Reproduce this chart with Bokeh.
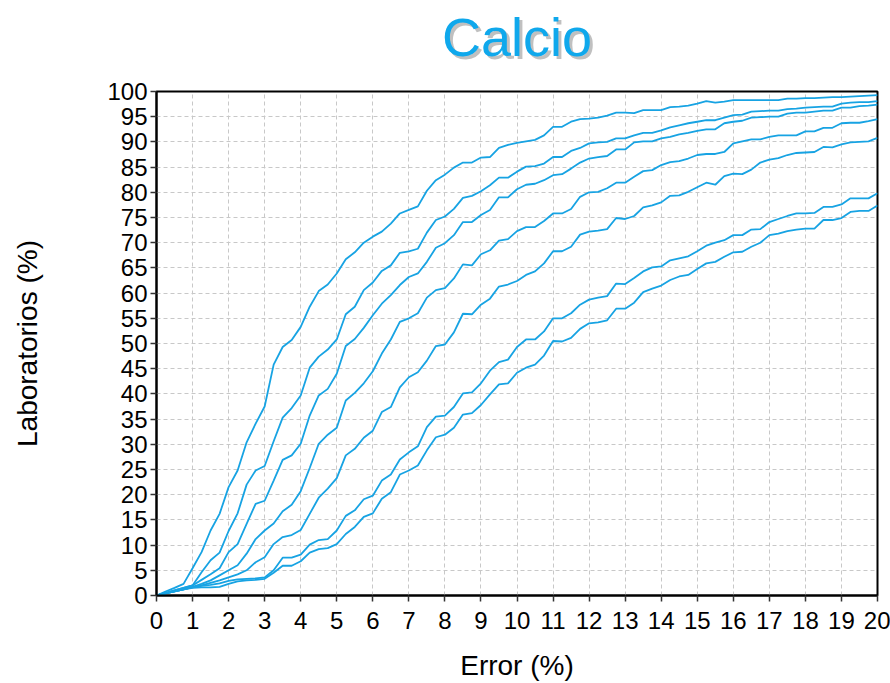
from bokeh.plotting import figure
from bokeh.layouts import column
from bokeh.models import FixedTicker, Range1d
from bokeh.core.properties import value
from bokeh.embed import file_html
from bokeh.resources import INLINE

# Error axis, sampled every 0.25 %
error_pct = [i * 0.25 for i in range(81)]

# Cumulative share of laboratories (%) within each error, one list per curve
lab_1 = [0.0, 0.8, 1.5, 2.3,
         5.4, 8.6, 12.9, 16.2,
         21.5, 24.8, 30.4, 34.1,
         37.5, 45.8, 49.3, 50.7,
         53.3, 57.3, 60.4, 61.7,
         63.9, 66.7, 68.1, 70.0,
         71.2, 72.2, 73.8, 75.8,
         76.5, 77.2, 80.3, 82.4,
         83.5, 84.9, 85.9, 85.9,
         86.9, 87.0, 88.8, 89.4,
         89.8, 90.1, 90.4, 91.3,
         93.0, 93.0, 94.0, 94.5,
         94.6, 94.8, 95.2, 95.8,
         95.8, 95.7, 96.3, 96.3,
         96.3, 96.9, 97.0, 97.2,
         97.6, 98.1, 97.8, 98.0,
         98.3, 98.3, 98.3, 98.3,
         98.3, 98.3, 98.6, 98.6,
         98.7, 98.7, 98.8, 98.9,
         98.9, 99.0, 99.1, 99.2,
         99.3]

lab_2 = [0.0, 0.5, 1.0, 1.5,
         2.0, 4.6, 7.0, 8.5,
         12.8, 16.3, 22.0, 24.8,
         25.7, 30.6, 35.3, 37.2,
         39.7, 45.2, 47.4, 48.8,
         50.8, 55.8, 57.3, 60.6,
         62.1, 64.4, 65.5, 68.0,
         68.3, 68.8, 72.0, 74.5,
         75.2, 76.7, 78.9, 79.3,
         80.2, 81.4, 82.9, 82.9,
         84.1, 85.1, 85.2, 85.7,
         87.0, 87.0, 88.2, 88.8,
         89.7, 89.9, 90.0, 90.7,
         90.7, 91.3, 91.8, 91.8,
         92.3, 92.9, 93.3, 93.7,
         94.0, 94.3, 94.3, 94.8,
         95.3, 95.4, 96.0, 96.1,
         96.2, 96.2, 96.5, 96.6,
         96.8, 96.9, 97.0, 97.0,
         97.6, 97.8, 97.9, 97.9,
         98.1]

lab_3 = [0.0, 0.5, 1.0, 1.5,
         2.0, 3.1, 4.2, 5.4,
         8.6, 10.2, 14.2, 18.2,
         18.8, 22.8, 26.9, 27.8,
         30.1, 35.7, 39.7, 41.0,
         44.0, 49.5, 50.9, 53.1,
         55.6, 57.9, 59.6, 61.6,
         63.2, 63.9, 66.2, 69.0,
         69.9, 71.5, 74.1, 74.1,
         75.5, 76.5, 79.0, 79.0,
         80.6, 81.5, 81.7, 82.4,
         83.4, 83.6, 84.7, 85.9,
         86.7, 87.0, 87.2, 88.5,
         88.5, 89.9, 90.1, 90.1,
         90.7, 91.0, 91.5, 91.8,
         92.2, 92.5, 92.5, 93.7,
         94.0, 94.2, 94.8, 94.9,
         95.0, 95.0, 95.6, 95.8,
         95.8, 96.0, 96.2, 96.2,
         96.8, 96.8, 97.1, 97.2,
         97.4]

lab_4 = [0.0, 0.4, 0.8, 1.2,
         1.7, 2.3, 3.0, 4.0,
         5.0, 6.0, 8.3, 11.2,
         12.9, 14.3, 16.7, 18.0,
         20.7, 25.3, 30.1, 31.9,
         33.3, 38.7, 40.2, 42.1,
         44.5, 48.0, 50.8, 54.3,
         55.0, 56.0, 59.1, 60.6,
         61.0, 62.9, 65.7, 65.5,
         67.7, 68.5, 70.4, 70.7,
         72.3, 73.1, 73.1, 74.3,
         75.8, 75.8, 76.7, 79.1,
         80.0, 80.1, 80.8, 81.9,
         81.9, 83.1, 84.2, 84.4,
         85.4, 86.0, 86.2, 86.7,
         87.4, 87.6, 87.6, 88.0,
         89.7, 90.1, 90.5, 90.5,
         91.0, 91.3, 91.3, 91.3,
         92.1, 92.1, 92.8, 92.8,
         93.7, 93.8, 93.8, 94.1,
         94.5]

lab_5 = [0.0, 0.4, 0.8, 1.2,
         1.65, 2.0, 2.5, 3.0,
         3.6, 4.2, 5.0, 6.6,
         7.6, 10.2, 11.6, 12.0,
         13.0, 16.2, 19.4, 21.2,
         23.3, 27.8, 29.1, 31.3,
         32.7, 36.4, 37.4, 41.3,
         43.3, 44.3, 46.6, 49.5,
         49.8, 52.2, 55.9, 55.8,
         57.7, 58.9, 61.3, 61.7,
         62.4, 63.6, 64.3, 65.9,
         68.3, 68.3, 69.2, 71.6,
         72.2, 72.4, 72.7, 74.9,
         74.7, 75.3, 77.0, 77.4,
         78.0, 79.3, 79.4, 80.1,
         81.0, 81.9, 81.5, 83.2,
         83.7, 83.6, 84.5, 85.9,
         86.5, 86.8, 87.4, 87.8,
         87.9, 88.0, 89.0, 88.9,
         89.5, 89.9, 90.0, 90.1,
         90.8]

lab_6 = [0.0, 0.4, 0.8, 1.2,
         1.6, 1.9, 2.1, 2.4,
         2.9, 3.2, 3.3, 3.4,
         3.6, 5.0, 7.5, 7.5,
         8.1, 10.1, 11.0, 11.2,
         12.9, 15.8, 16.9, 19.1,
         19.8, 22.8, 24.0, 27.0,
         28.4, 29.6, 33.4, 35.5,
         35.7, 37.4, 40.1, 40.3,
         42.1, 44.6, 46.3, 46.8,
         49.3, 50.8, 50.8, 52.4,
         55.0, 55.0, 56.0, 57.7,
         58.7, 59.1, 59.4, 61.9,
         61.8, 63.0, 64.3, 65.1,
         65.3, 66.5, 66.9, 67.3,
         68.3, 69.4, 70.0, 70.5,
         71.5, 71.5, 72.6, 72.7,
         74.1, 74.7, 75.3, 75.8,
         75.8, 75.9, 77.1, 77.1,
         77.6, 78.8, 78.8, 78.8,
         79.8]

lab_7 = [0.0, 0.4, 0.8, 1.2,
         1.5, 1.6, 1.6, 1.7,
         2.3, 2.8, 3.0, 3.1,
         3.3, 4.5, 5.9, 5.9,
         6.8, 8.5, 9.2, 9.4,
         10.2, 12.2, 13.6, 15.6,
         16.3, 19.2, 20.5, 24.0,
         24.8, 25.8, 28.8, 31.4,
         31.9, 33.3, 35.9, 36.2,
         37.8, 39.9, 41.9, 42.1,
         44.2, 45.2, 45.8, 47.6,
         50.5, 50.4, 51.1, 52.9,
         54.0, 54.2, 54.6, 56.9,
         56.9, 58.1, 60.2, 60.9,
         61.5, 62.6, 63.3, 63.6,
         64.8, 65.9, 66.2, 67.2,
         68.1, 68.2, 69.2, 70.0,
         71.5, 71.8, 72.3, 72.6,
         72.8, 72.8, 74.5, 74.5,
         74.9, 76.1, 76.3, 76.3,
         77.4]

curves = [lab_1, lab_2, lab_3, lab_4, lab_5, lab_6, lab_7]

x_ticks = [0, 1, 2, 3, 4, 5, 6, 7, 8, 9, 10, 11, 12, 13, 14, 15, 16, 17, 18, 19, 20]
y_ticks = [0, 5, 10, 15, 20, 25, 30, 35, 40, 45, 50, 55, 60, 65, 70, 75, 80, 85, 90, 95, 100]

title_text = "Calcio"
x_title = "Error (%)"
y_title = "Laboratorios (%)"

LINE_BLUE = "#17a3e3"
TITLE_BLUE = "#0fa8ec"
FONT = "Liberation Sans"

W = 890
HEAD_H = 71            # heading strip height
PLOT_TOP = 20          # chart border above the frame (room for the "100" label)
PLOT_H = 683 - HEAD_H
LEFT, RIGHT = 156, 13

# --- heading strip: same horizontal frame as the chart, y measured in pixels
head = figure(width=W, height=HEAD_H, output_backend="svg", toolbar_location=None,
              title=None, x_axis_location=None, y_axis_location=None,
              x_range=Range1d(x_ticks[0], x_ticks[-1]), y_range=Range1d(0, HEAD_H),
              min_border_left=LEFT, min_border_right=RIGHT,
              min_border_top=0, min_border_bottom=0)
head.grid.visible = False
head.outline_line_color = None
head.background_fill_color = "white"
head.border_fill_color = "white"

title_cx = (x_ticks[0] + x_ticks[-1]) / 2
title_anchor = HEAD_H - 36
head.text(x=[title_cx], y=[title_anchor - 3], x_offset=3, text=[title_text],
          text_align="center", text_baseline="alphabetic",
          text_font=value(FONT), text_font_size="54px",
          text_color="#8c8c8c", text_alpha=0.55)
head.text(x=[title_cx], y=[title_anchor], text=[title_text],
          text_align="center", text_baseline="alphabetic",
          text_font=value(FONT), text_font_size="54px",
          text_color=TITLE_BLUE)

# --- main chart
p = figure(width=W, height=PLOT_H, output_backend="svg", toolbar_location=None,
           x_range=Range1d(x_ticks[0], x_ticks[-1]),
           y_range=Range1d(y_ticks[0], y_ticks[-1]),
           min_border_left=LEFT, min_border_right=RIGHT,
           min_border_top=PLOT_TOP, min_border_bottom=88)

p.background_fill_color = "white"
p.border_fill_color = "white"
p.outline_line_color = "black"
p.outline_line_width = 2

# dashed light grid
p.grid.grid_line_color = "#c8c8c8"
p.grid.grid_line_dash = "4 3"
p.grid.grid_line_width = 1

p.xaxis.ticker = FixedTicker(ticks=x_ticks)
p.yaxis.ticker = FixedTicker(ticks=y_ticks)

p.axis.axis_line_color = "black"
p.axis.axis_line_width = 2
p.axis.major_tick_line_color = "#333333"
p.axis.major_tick_line_width = 1.5
p.axis.major_tick_in = 0
p.axis.major_tick_out = 6
p.axis.minor_tick_line_color = None
p.axis.major_label_text_font = FONT
p.axis.major_label_text_font_size = "24px"
p.axis.major_label_text_color = "black"
p.xaxis.major_label_standoff = 10
p.yaxis.major_label_standoff = 3

# axis titles
p.axis.axis_label_text_font = FONT
p.axis.axis_label_text_font_size = "28px"
p.axis.axis_label_text_font_style = "normal"
p.axis.axis_label_text_color = "black"
p.xaxis.axis_label = x_title
p.xaxis.axis_label_standoff = 18
p.yaxis.axis_label = y_title
p.yaxis.axis_label_standoff = 61

for ys in curves:
    p.line(error_pct, ys, line_color=LINE_BLUE, line_width=1.8)

layout = column(head, p, spacing=0)

open("out.html", "w").write(file_html(layout, INLINE))
